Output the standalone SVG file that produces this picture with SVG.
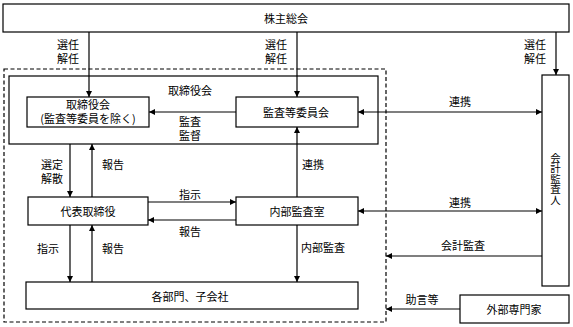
<svg xmlns="http://www.w3.org/2000/svg" width="573" height="327" viewBox="0 0 573 327">
<defs>
<marker id="ah" viewBox="0 0 6 6" refX="6" refY="3" markerWidth="6" markerHeight="6" orient="auto-start-reverse" markerUnits="userSpaceOnUse">
<path d="M0,0 L6,3 L0,6 z" fill="#000"/>
</marker>
<style>
text{font-family:"Noto Sans CJK JP","Noto Sans",sans-serif;font-size:11px;fill:#000;text-anchor:middle;dominant-baseline:central}
.vt{writing-mode:vertical-rl;font-size:10.5px}
.box{fill:#fff;stroke:#000;stroke-width:1.2}
.frame{fill:none;stroke:#000;stroke-width:1.2}
.dash{fill:none;stroke:#000;stroke-width:1.2;stroke-dasharray:4 2.5}
.c{fill:none;stroke:#000;stroke-width:1.2}
.a{marker-end:url(#ah)}
.b{marker-start:url(#ah);marker-end:url(#ah)}
</style>
</defs>
<rect width="573" height="327" fill="#fff"/>
<g id="group-frame">
<rect class="dash" x="4" y="69" width="382" height="253"/>
<rect class="frame" x="9" y="76" width="369" height="68"/>
<text x="190" y="90">取締役会</text>
</g>
<g id="connectors">
<line class="c a" x1="89" y1="32" x2="89" y2="97"/>
<line class="c a" x1="297" y1="32" x2="297" y2="97"/>
<line class="c a" x1="556" y1="32" x2="556" y2="75"/>
<line class="c a" x1="236" y1="112" x2="149" y2="112"/>
<line class="c b" x1="358" y1="112" x2="542" y2="112"/>
<line class="c a" x1="70" y1="144" x2="70" y2="197"/>
<line class="c a" x1="92" y1="197" x2="92" y2="144"/>
<line class="c a" x1="148" y1="202" x2="236" y2="202"/>
<line class="c a" x1="236" y1="220" x2="148" y2="220"/>
<line class="c a" x1="297" y1="197" x2="297" y2="127"/>
<line class="c b" x1="358" y1="211" x2="542" y2="211"/>
<line class="c a" x1="70" y1="225" x2="70" y2="282"/>
<line class="c a" x1="92" y1="282" x2="92" y2="225"/>
<line class="c a" x1="297" y1="225" x2="297" y2="282"/>
<line class="c a" x1="542" y1="256" x2="386" y2="256"/>
<line class="c a" x1="460" y1="309" x2="386" y2="309"/>
</g>
<g id="labels">
<text x="68" y="44">選任<tspan x="68" dy="14">解任</tspan></text>
<text x="276" y="44">選任<tspan x="276" dy="14">解任</tspan></text>
<text x="535" y="44">選任<tspan x="535" dy="14">解任</tspan></text>
<text x="190" y="121">監査<tspan x="190" dy="14">監督</tspan></text>
<text x="460" y="101">連携</text>
<text x="52" y="164">選定<tspan x="52" dy="14">解散</tspan></text>
<text x="113" y="164">報告</text>
<text x="313" y="164">連携</text>
<text x="190" y="194">指示</text>
<text x="190" y="231">報告</text>
<text x="460" y="202">連携</text>
<text x="48" y="248">指示</text>
<text x="113" y="248">報告</text>
<text x="323" y="247">内部監査</text>
<text x="463" y="245">会計監査</text>
<text x="422" y="299">助言等</text>
</g>
<g id="node-shareholders">
<rect class="box" x="3" y="4" width="566" height="28"/>
<text x="286" y="18">株主総会</text>
</g>
<g id="node-board-excl">
<rect class="box" x="27" y="97" width="122" height="30"/>
<text x="88" y="104">取締役会<tspan x="88" dy="14">(監査等委員を除く)</tspan></text>
</g>
<g id="node-audit-committee">
<rect class="box" x="236" y="97" width="122" height="30"/>
<text x="296" y="112">監査等委員会</text>
</g>
<g id="node-auditor">
<rect class="box" x="542" y="75" width="27" height="211"/>
<text class="vt" x="555.5" y="179">会計監査人</text>
</g>
<g id="node-representative">
<rect class="box" x="28" y="197" width="120" height="28"/>
<text x="88" y="211">代表取締役</text>
</g>
<g id="node-internal-audit">
<rect class="box" x="236" y="197" width="122" height="28"/>
<text x="297" y="211">内部監査室</text>
</g>
<g id="node-departments">
<rect class="box" x="26" y="282" width="332" height="27"/>
<text x="190" y="296">各部門、子会社</text>
</g>
<g id="node-experts">
<rect class="box" x="460" y="295" width="109" height="28"/>
<text x="514" y="309">外部専門家</text>
</g>
</svg>
